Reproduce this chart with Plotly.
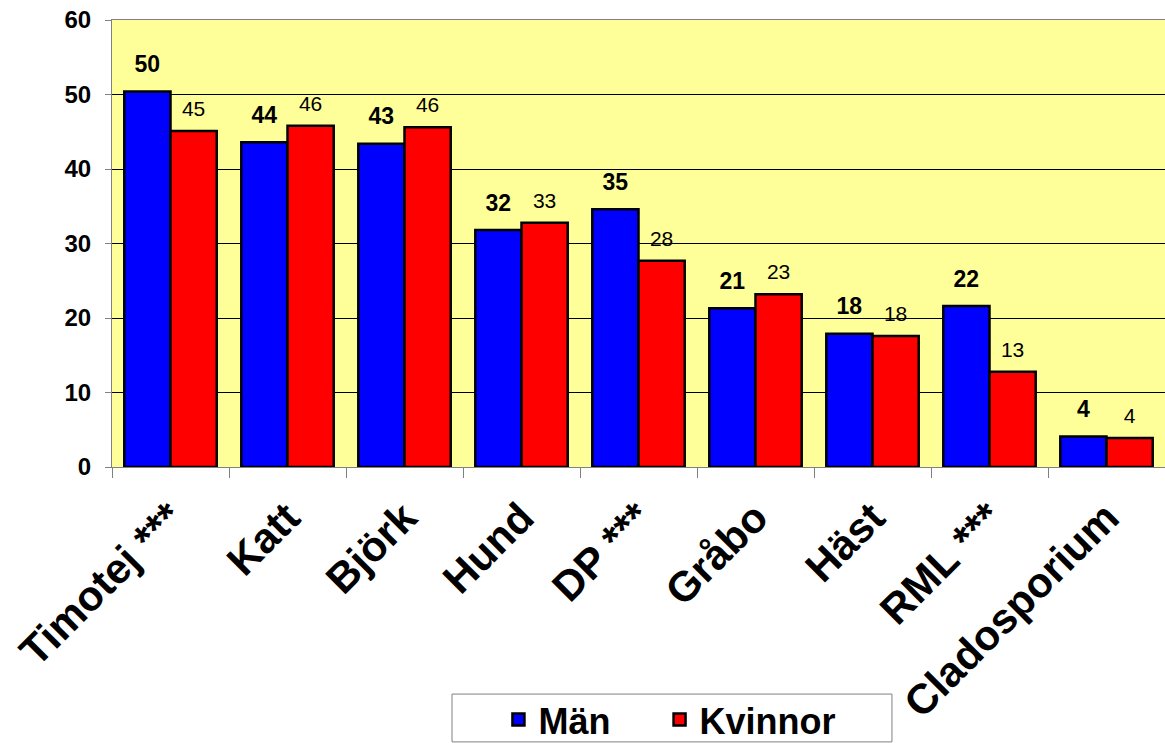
import plotly.graph_objects as go

# allergen categories and percent positive per sex
categories = ["Timotej ***", "Katt", "Björk", "Hund", "DP ***", "Gråbo", "Häst", "RML ***", "Cladosporium"]
man = [50.4, 43.6, 43.4, 31.8, 34.6, 21.3, 17.9, 21.6, 4.1]
kvinnor = [45.1, 45.8, 45.6, 32.8, 27.7, 23.2, 17.6, 12.8, 3.9]
y_ticks = [0, 10, 20, 30, 40, 50, 60]

font = "Liberation Sans, Arial, sans-serif"

fig = go.Figure()
fig.add_trace(go.Bar(
    x=categories, y=man, name="Män", legend="legend",
    marker=dict(color="#0000ff", line=dict(color="black", width=2.5)),
    hoverinfo="skip",
))
fig.add_trace(go.Bar(
    x=categories, y=kvinnor, name="Kvinnor", legend="legend2",
    marker=dict(color="#ff0000", line=dict(color="black", width=2.5)),
    hoverinfo="skip",
))
# value labels, lifted a little above the bar tops
fig.add_trace(go.Scatter(
    x=categories, y=man, mode="markers+text", showlegend=False,
    marker=dict(size=20, opacity=0),
    text=[f"{v:.0f}" for v in man], textposition="top center",
    textfont=dict(family=font, size=23, color="black", weight="bold"),
    cliponaxis=False, hoverinfo="skip",
))
fig.add_trace(go.Scatter(
    x=categories, y=kvinnor, mode="markers+text", showlegend=False,
    marker=dict(size=14, opacity=0),
    text=[f"{v:.0f}" for v in kvinnor], textposition="top center",
    textfont=dict(family=font, size=21, color="black"),
    cliponaxis=False, hoverinfo="skip",
))

legend_style = dict(
    orientation="h",
    xanchor="left",
    y=-0.498, yanchor="top",
    font=dict(family=font, size=36, color="black", weight="bold"),
    borderwidth=0,
    bgcolor="rgba(0,0,0,0)",
)

fig.update_layout(
    width=1165, height=743,
    margin=dict(l=112, r=0, t=20, b=276, autoexpand=False),
    paper_bgcolor="white",
    plot_bgcolor="#ffff99",
    barmode="group",
    bargap=0.21,
    bargroupgap=0,
    scattermode="group",
    scattergap=0.21,
    font=dict(family=font, color="black"),
    showlegend=True,
    legend=dict(legend_style, x=0.367),
    legend2=dict(legend_style, x=0.520),
    shapes=[dict(
        type="rect", xref="paper", yref="paper",
        x0=0.3229, x1=0.7407, y0=-0.508, y1=-0.615,
        line=dict(color="#808080", width=1), fillcolor="white", layer="below",
    )],
)
fig.update_yaxes(
    range=[0, 60], tickvals=y_ticks,
    showgrid=True, gridcolor="black", gridwidth=1,
    showline=True, linecolor="#808080", linewidth=1,
    ticks="outside", ticklen=6, tickcolor="#808080",
    ticklabelstandoff=9,
    tickfont=dict(family=font, size=24, color="black", weight="bold"),
    zeroline=False,
)
fig.update_xaxes(
    tickangle=-45,
    showline=True, linecolor="#808080", linewidth=1, mirror=True,
    ticks="outside", ticklen=10, tickcolor="#808080", tickson="boundaries",
    ticklabelstandoff=8,
    tickfont=dict(family=font, size=42, color="black", weight="bold"),
)

fig.write_html("out.html", config={"displayModeBar": False},
               post_script="document.body.style.margin='0';")
